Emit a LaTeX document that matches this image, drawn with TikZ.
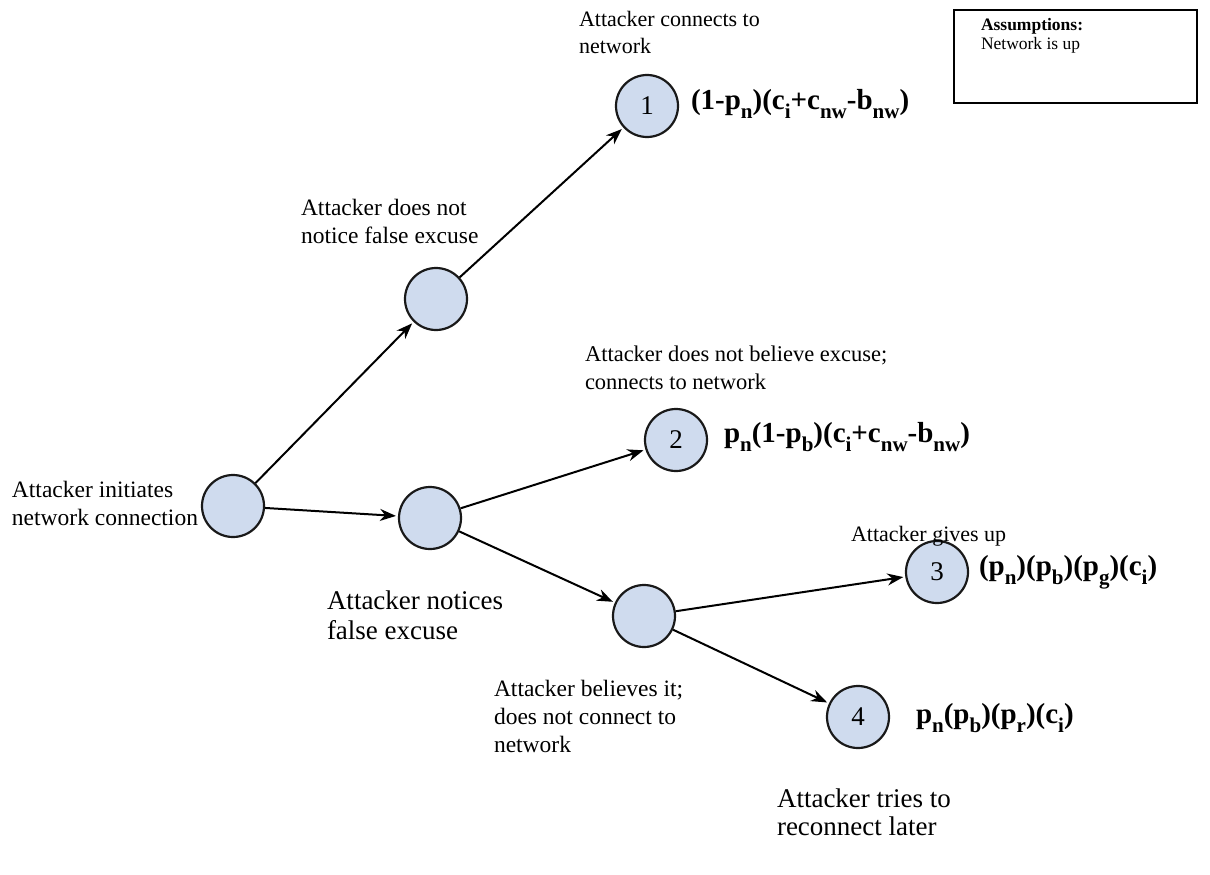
\documentclass[tikz,border=0pt]{standalone}
\usepackage{fontspec}
\setmainfont{Liberation Serif}
\usepackage{tikz}
\usetikzlibrary{arrows.meta}
\definecolor{nodefill}{HTML}{CFDBEE}
\newcommand{\sub}[1]{\raisebox{-0.3em}{\fontsize{21}{21}\selectfont #1}}

\begin{document}
\begin{tikzpicture}[x=1pt, y=-1pt, line width=2pt,
  state/.style={circle, draw=black!90, line width=2.2pt, fill=nodefill, minimum size=62pt, inner sep=0pt, font=\fontsize{27}{27}\selectfont},
  lbl/.style={anchor=west, align=left, inner sep=0pt, font=\fontsize{23.5}{28}\selectfont},
  payoff/.style={anchor=west, inner sep=0pt, font=\fontsize{29}{29}\selectfont\bfseries},
  edge/.style={-{Stealth[length=16pt, width=12pt]}, shorten >=2pt}]
\useasboundingbox (0, 0) rectangle (1210, 875);
% tree nodes
\node[state] (root) at (233, 506) {};
\node[state] (nonotice) at (436, 299) {};
\node[state] (one) at (647, 106) {1};
\node[state] (notice) at (430, 518) {};
\node[state] (two) at (676, 440) {2};
\node[state] (believe) at (644, 616) {};
\node[state] (three) at (937, 572) {3};
\node[state] (four) at (858, 717) {4};
% branches
\draw[edge] (root) -- (nonotice);
\draw[edge] (root) -- (notice);
\draw[edge] (nonotice) -- (one);
\draw[edge] (notice) -- (two);
\draw[edge] (notice) -- (believe);
\draw[edge] (believe) -- (three);
\draw[edge] (believe) -- (four);
% labels
\node[lbl] (lblroot) at (11, 503) {Attacker initiates\\network connection};
\node[lbl] (lblnonotice) at (300, 221) {Attacker does not\\notice false excuse};
\node[lbl, font=\fontsize{22}{27}\selectfont] (lblone) at (578, 32) {Attacker connects to\\network};
\node[lbl, font=\fontsize{22.5}{28}\selectfont] (lbltwo) at (584, 368) {Attacker does not believe excuse;\\connects to network};
\node[lbl, font=\fontsize{27}{30}\selectfont] (lblnotice) at (326, 615) {Attacker notices\\false excuse};
\node[lbl, font=\fontsize{22}{27}\selectfont] (lblthree) at (850, 536) {Attacker gives up};
\node[lbl] (lblbelieve) at (493, 716) {Attacker believes it;\\does not connect to\\network};
\node[lbl, font=\fontsize{27}{28}\selectfont] (lblfour) at (776, 812) {Attacker tries to\\reconnect later};
% payoffs
\node[payoff] (payone) at (690, 104) {(1-p\sub{n})(c\sub{i}+c\sub{nw}-b\sub{nw})};
\node[payoff] (paytwo) at (723, 437) {p\sub{n}(1-p\sub{b})(c\sub{i}+c\sub{nw}-b\sub{nw})};
\node[payoff] (paythree) at (978, 572) {(p\sub{n})(p\sub{b})(p\sub{g})(c\sub{i})};
\node[payoff] (payfour) at (915, 718) {p\sub{n}(p\sub{b})(p\sub{r})(c\sub{i})};
% assumptions box
\draw[line width=2.5pt] (954, 10) rectangle (1197, 103);
\node[lbl, font=\fontsize{17.5}{19}\selectfont] (assume) at (980, 36) {\textbf{Assumptions:}\\Network is up};
\end{tikzpicture}
\end{document}
